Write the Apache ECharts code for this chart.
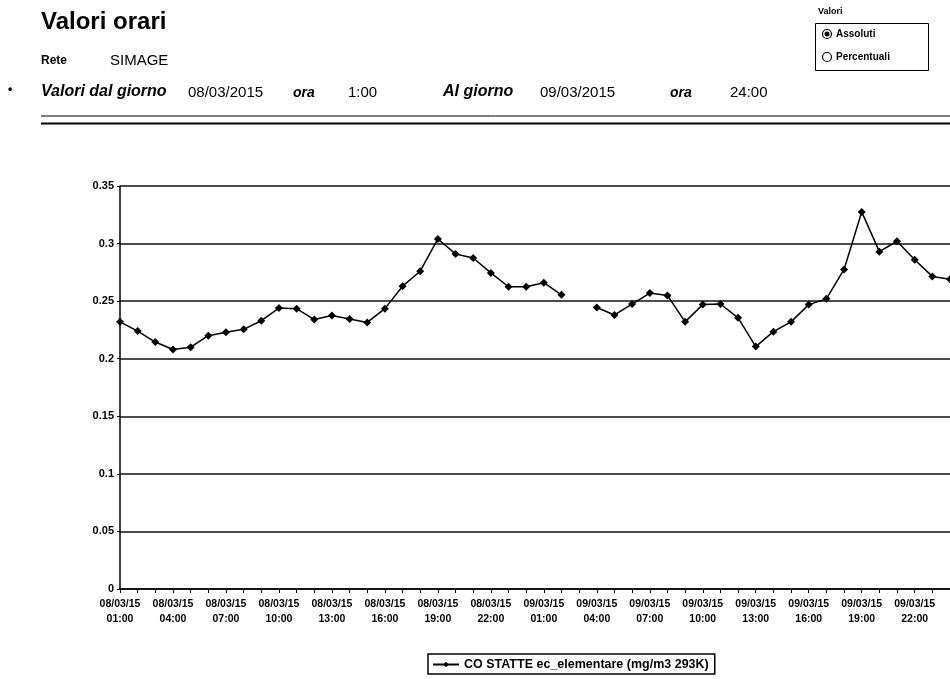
<!DOCTYPE html>
<html>
<head>
<meta charset="utf-8">
<script src="https://cdn.jsdelivr.net/npm/echarts@6/dist/echarts.min.js"></script>
<style>
  html, body { margin: 0; padding: 0; background: #fff; }
  #chart { width: 950px; height: 679px; }
</style>
</head>
<body>
<div id="chart"></div>
<script>
// hourly categories: two days, 01:00 .. 24:00
const days = ['08/03/15', '09/03/15']
const hours = ['01:00', '02:00', '03:00', '04:00', '05:00', '06:00', '07:00', '08:00',
  '09:00', '10:00', '11:00', '12:00', '13:00', '14:00', '15:00', '16:00',
  '17:00', '18:00', '19:00', '20:00', '21:00', '22:00', '23:00', '24:00']
const categories = []
days.forEach((d) => { hours.forEach((h) => { categories.push(d + '\n' + h) }) })

// CO STATTE ec_elementare (mg/m3 293K), null = missing hour
const ecDay1 = [0.232, 0.224, 0.2145, 0.208, 0.210, 0.220, 0.223, 0.2255,
  0.233, 0.244, 0.2435, 0.234, 0.2375, 0.2345, 0.2315, 0.2435,
  0.263, 0.276, 0.304, 0.291, 0.2875, 0.2745, 0.2625, 0.2625]
const ecDay2 = [0.266, 0.2555, null, 0.2445, 0.238, 0.2475, 0.257, 0.255,
  0.232, 0.247, 0.2475, 0.2355, 0.2105, 0.2235, 0.232, 0.247,
  0.252, 0.2775, 0.3275, 0.293, 0.302, 0.286, 0.2715, 0.269]
const ecValues = ecDay1.concat(ecDay2)

const yTicks = [0, 0.05, 0.1, 0.15, 0.2, 0.25, 0.3, 0.35]
const seriesName = 'CO STATTE ec_elementare (mg/m3 293K)'

const font = '"Liberation Sans", Arial, sans-serif'
const chart = echarts.init(document.getElementById('chart'))
chart.setOption({
  animation: false,
  backgroundColor: '#fff',
  textStyle: { fontFamily: font },
  grid: { left: 120, right: 0, top: 186, bottom: 90 },
  xAxis: {
    type: 'category',
    data: categories,
    boundaryGap: false,
    axisLine: { lineStyle: { color: '#000', width: 1.5 } },
    axisTick: { interval: 0, length: 4, lineStyle: { color: '#000' } },
    axisLabel: {
      interval: 2,
      color: '#000',
      fontSize: 10.5,
      fontWeight: 'bold',
      lineHeight: 15,
      margin: 8
    },
    splitLine: { show: false }
  },
  yAxis: {
    type: 'value',
    min: yTicks[0],
    max: yTicks[yTicks.length - 1],
    interval: 0.05,
    axisLine: { show: true, lineStyle: { color: '#000', width: 1.5 } },
    axisTick: { show: true, length: 3, lineStyle: { color: '#000' } },
    axisLabel: { color: '#000', fontSize: 11, fontWeight: 'bold', margin: 6 },
    splitLine: { lineStyle: { color: '#111', width: 1.5 } }
  },
  legend: {
    data: [seriesName],
    bottom: 5,
    left: 428,
    itemWidth: 26,
    itemHeight: 7,
    itemGap: 4,
    padding: [4, 6, 3, 4],
    borderColor: '#000',
    borderWidth: 1.5,
    textStyle: { color: '#000', fontSize: 12.5, fontWeight: 'bold' }
  },
  series: [{
    name: seriesName,
    type: 'line',
    data: ecValues,
    symbol: 'diamond',
    symbolSize: 8,
    showSymbol: true,
    connectNulls: false,
    itemStyle: { color: '#000' },
    lineStyle: { color: '#000', width: 1.5 }
  }],
  graphic: [
    { type: 'text', left: 41, top: 10, style: { text: 'Valori orari', font: 'bold 24px ' + font, fill: '#000' } },
    { type: 'text', left: 41, top: 55, style: { text: 'Rete', font: 'bold 12px ' + font, fill: '#000' } },
    { type: 'text', left: 110, top: 53, style: { text: 'SIMAGE', font: '15px ' + font, fill: '#000' } },
    { type: 'text', left: 8, top: 84, style: { text: '•', font: 'bold 12px ' + font, fill: '#000' } },
    { type: 'text', left: 41, top: 84, style: { text: 'Valori dal giorno', font: 'italic bold 16px ' + font, fill: '#000' } },
    { type: 'text', left: 188, top: 85, style: { text: '08/03/2015', font: '15px ' + font, fill: '#000' } },
    { type: 'text', left: 293, top: 86, style: { text: 'ora', font: 'italic bold 14px ' + font, fill: '#000' } },
    { type: 'text', left: 348, top: 85, style: { text: '1:00', font: '15px ' + font, fill: '#000' } },
    { type: 'text', left: 443, top: 84, style: { text: 'Al giorno', font: 'italic bold 16px ' + font, fill: '#000' } },
    { type: 'text', left: 540, top: 85, style: { text: '09/03/2015', font: '15px ' + font, fill: '#000' } },
    { type: 'text', left: 670, top: 86, style: { text: 'ora', font: 'italic bold 14px ' + font, fill: '#000' } },
    { type: 'text', left: 730, top: 85, style: { text: '24:00', font: '15px ' + font, fill: '#000' } },
    { type: 'line', shape: { x1: 41, y1: 116, x2: 950, y2: 116 }, style: { stroke: '#000', lineWidth: 1 } },
    { type: 'line', shape: { x1: 41, y1: 123.5, x2: 950, y2: 123.5 }, style: { stroke: '#000', lineWidth: 2 } },
    // Valori radio box
    { type: 'text', left: 818, top: 7, style: { text: 'Valori', font: 'bold 9px ' + font, fill: '#000' } },
    { type: 'rect', shape: { x: 815.5, y: 23.5, width: 113, height: 47 }, style: { fill: 'none', stroke: '#000', lineWidth: 1 } },
    { type: 'circle', shape: { cx: 827, cy: 34, r: 4.5 }, style: { fill: '#fff', stroke: '#000', lineWidth: 1.2 } },
    { type: 'circle', shape: { cx: 827, cy: 34, r: 2.5 }, style: { fill: '#000' } },
    { type: 'text', left: 836, top: 29, style: { text: 'Assoluti', font: 'bold 10px ' + font, fill: '#000' } },
    { type: 'circle', shape: { cx: 827, cy: 57, r: 4.5 }, style: { fill: '#fff', stroke: '#000', lineWidth: 1.2 } },
    { type: 'text', left: 836, top: 52, style: { text: 'Percentuali', font: 'bold 10px ' + font, fill: '#000' } }
  ]
})
</script>
</body>
</html>
